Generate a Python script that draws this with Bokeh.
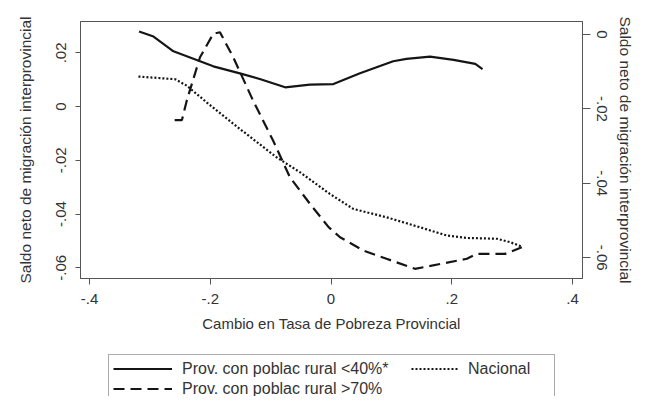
from bokeh.plotting import figure
from bokeh.layouts import column
from bokeh.models import Range1d, LinearAxis, FixedTicker, Legend, LegendItem
from bokeh.embed import file_html
from bokeh.resources import INLINE

# ---- data ----
x_solid = [-0.318, -0.294, -0.261, -0.217, -0.195, -0.151, -0.118, -0.076, -0.035, 0.004,
           0.048, 0.103, 0.125, 0.164, 0.203, 0.239, 0.251]
y_solid = [0.0280, 0.0261, 0.0206, 0.0169, 0.0150, 0.0124, 0.0103, 0.0072, 0.0082, 0.0084,
           0.0124, 0.0169, 0.0178, 0.0186, 0.0174, 0.0159, 0.0140]

x_dot = [-0.319, -0.258, -0.239, -0.206, -0.151, -0.090, -0.051, -0.002, 0.037, 0.092,
         0.147, 0.192, 0.225, 0.275, 0.297, 0.316]
y_dot = [0.0112, 0.0102, 0.0078, 0.0016, -0.0083, -0.0189, -0.0245, -0.0325, -0.0381, -0.0412,
         -0.0449, -0.0480, -0.0489, -0.0492, -0.0505, -0.0521]

# dashed series is on the right-hand axis
x_dash = [-0.259, -0.247, -0.239, -0.217, -0.195, -0.184, -0.162, -0.129, -0.096, -0.068,
          -0.035, -0.004, 0.015, 0.054, 0.092, 0.139, 0.181, 0.225, 0.241, 0.288, 0.316]
y_dash = [-0.0230, -0.0230, -0.0178, -0.0061, 0.0002, 0.0006, -0.0061, -0.0178, -0.0285, -0.0384,
          -0.0455, -0.0518, -0.0545, -0.0581, -0.0603, -0.0630, -0.0617, -0.0603, -0.0590, -0.0590,
          -0.0572]

x_ticks = [-0.4, -0.2, 0.0, 0.2, 0.4]
x_tick_labels = ["-.4", "-.2", "0", ".2", ".4"]
yl_ticks = [-0.06, -0.04, -0.02, 0.0, 0.02]
yl_tick_labels = ["-.06", "-.04", "-.02", "0", ".02"]
yr_ticks = [-0.06, -0.04, -0.02, 0.0]
yr_tick_labels = ["-.06", "-.04", "-.02", "0"]

label_solid = "Prov. con poblac rural <40%*"
label_dot = "Nacional"
label_dash = "Prov. con poblac rural >70%"
x_title = "Cambio en Tasa de Pobreza Provincial"
y_title = "Saldo neto de migración interprovincial"

FONT = "Liberation Sans"
TXT = "#333333"
AX = "#555555"
LINE = "#151515"
W = 641

p = figure(width=W, height=350, output_backend="svg", toolbar_location=None,
           x_range=Range1d(-0.415, 0.4166), y_range=Range1d(-0.064, 0.0317),
           min_border_left=80, min_border_right=59, min_border_top=21, min_border_bottom=72,
           background_fill_color="white", border_fill_color="white")
p.extra_y_ranges = {"right": Range1d(-0.0656, 0.0035)}
p.xgrid.visible = False
p.ygrid.visible = False
p.outline_line_color = AX
p.outline_line_width = 1

def style(ax, tick_out, title_size):
    ax.axis_line_color = AX
    ax.major_tick_line_color = AX
    ax.minor_tick_line_color = None
    ax.major_tick_in = 0
    ax.major_tick_out = tick_out
    ax.major_label_text_font = FONT
    ax.major_label_text_font_size = "15px"
    ax.major_label_text_color = TXT
    ax.axis_label_text_font = FONT
    ax.axis_label_text_font_size = title_size
    ax.axis_label_text_font_style = "normal"
    ax.axis_label_text_color = TXT

xa = p.xaxis[0]
style(xa, 6, "15px")
xa.ticker = FixedTicker(ticks=x_ticks)
xa.major_label_overrides = dict(zip(x_ticks, x_tick_labels))
xa.axis_label = x_title
xa.major_label_standoff = 9
xa.axis_label_standoff = 8

ya = p.yaxis[0]
style(ya, 5, "15.5px")
ya.ticker = FixedTicker(ticks=yl_ticks)
ya.major_label_overrides = dict(zip(yl_ticks, yl_tick_labels))
ya.major_label_orientation = "vertical"
ya.axis_label = y_title
ya.major_label_standoff = 9
ya.axis_label_standoff = 20

yr = LinearAxis(y_range_name="right")
style(yr, 8, "15.5px")
yr.ticker = FixedTicker(ticks=yr_ticks)
yr.major_label_overrides = dict(zip(yr_ticks, yr_tick_labels))
yr.major_label_orientation = "vertical"
yr.axis_label = y_title
yr.major_label_standoff = 6
yr.axis_label_standoff = 7
p.add_layout(yr, "right")

line_styles = [dict(line_color=LINE, line_width=2.2),
               dict(line_color=LINE, line_width=2.2, line_dash="2 2"),
               dict(line_color=LINE, line_width=2.2, line_dash="11 6")]

p.line(x_solid, y_solid, **line_styles[0])
p.line(x_dot, y_dot, **line_styles[1])
p.line(x_dash, y_dash, y_range_name="right", **line_styles[2])

# ---- legend strip below the plot (bottom of the box is cut, as in the reference) ----
# its ranges lie away from the data, so the series only feed the legend swatches here
p2 = figure(width=W, height=46, output_backend="svg", toolbar_location=None,
            x_range=Range1d(10, 11), y_range=Range1d(10, 11),
            x_axis_type=None, y_axis_type=None,
            min_border_left=0, min_border_right=0, min_border_top=0, min_border_bottom=0,
            background_fill_color="white", border_fill_color="white")
p2.outline_line_color = None
p2.xgrid.visible = False
p2.ygrid.visible = False
lr = [p2.line(x_solid, y_solid, **line_styles[0]),
      p2.line(x_dot, y_dot, **line_styles[1]),
      p2.line(x_dash, y_dash, **line_styles[2])]

def legend_style(lg, glyph_w):
    lg.label_text_font = FONT
    lg.label_text_font_size = "16px"
    lg.label_text_color = TXT
    lg.glyph_width = glyph_w
    lg.glyph_height = 19
    lg.label_height = 19
    lg.label_standoff = 10
    lg.spacing = 1
    lg.padding = 4
    lg.margin = 0

# boxed legend: first column (solid / dashed)
leg_a = Legend(items=[LegendItem(label=label_solid, renderers=[lr[0]]),
                       LegendItem(label=label_dash, renderers=[lr[2]])],
               orientation="vertical", location=(28, -7))
legend_style(leg_a, 59)
leg_a.label_width = 368
leg_a.border_line_color = AX
leg_a.border_line_width = 1
leg_a.background_fill_color = "white"
p2.add_layout(leg_a, "center")

# second column (dotted) drawn inside the same box
leg_b = Legend(items=[LegendItem(label=label_dot, renderers=[lr[1]])],
               orientation="vertical", location=(331, 18))
legend_style(leg_b, 47)
leg_b.border_line_color = None
leg_b.background_fill_alpha = 0
p2.add_layout(leg_b, "center")

layout = column(p, p2, spacing=0)
open("out.html", "w").write(file_html(layout, INLINE))
